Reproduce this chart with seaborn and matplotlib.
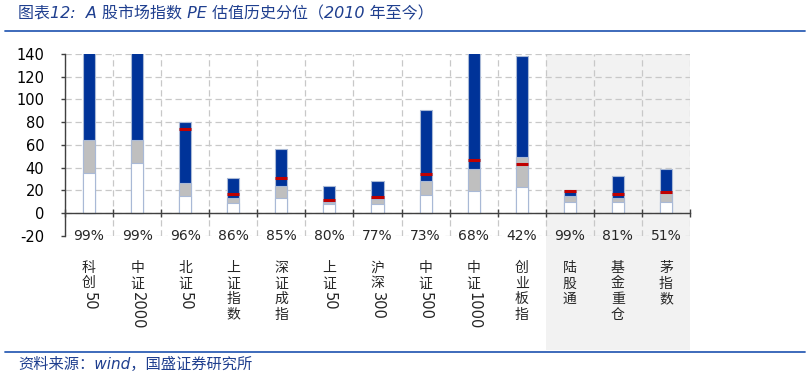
import pandas as pd
import numpy as np
import matplotlib
matplotlib.use('Agg')
import matplotlib.pyplot as plt
import matplotlib.transforms as mtransforms
from matplotlib.patches import Rectangle
from matplotlib.lines import Line2D
import seaborn as sns

sns.set_theme(style="white")
plt.rcParams['font.family'] = ['DejaVu Sans', 'Noto Sans CJK SC']
plt.rcParams['axes.unicode_minus'] = False

# data
cats = ['科创50', '中证2000', '北证50', '上证指数', '深证成指', '上证50', '沪深300',
        '中证500', '中证1000', '创业板指', '陆股通', '基金重仓', '茅指数']
low = [35, 44, 15, 9, 13, 7.5, 8, 15.5, 19, 22.5, 9.5, 9.5, 10]
mid = [64, 64, 26, 13, 24, 9.5, 12, 28, 39, 49, 15, 13, 17.5]
high = [150, 150, 80.5, 30.5, 56.5, 23.5, 28, 91, 150, 138, 20, 32.5, 39]
current = [148, 148, 74, 16.5, 31, 11.5, 13.8, 34, 47, 43.5, 19.6, 17, 18.8]
pct = ['99%', '99%', '96%', '86%', '85%', '80%', '77%', '73%', '68%', '42%', '99%', '81%', '51%']
shade_from = 10  # 陆股通 / 基金重仓 / 茅指数 are shaded

df = pd.DataFrame({'name': cats, 'low': low, 'mid': mid, 'high': high, 'current': current})

blue = '#003399'
grey = '#bfbfbf'
red = '#c00000'
edge = '#a9b9d6'
shade = '#f2f2f2'
navy = '#1f3f8f'

fig = plt.figure(figsize=(8.1, 3.77), dpi=100)
ax = fig.add_axes([65 / 810, 141 / 377, 625 / 810, 182 / 377])

# stacked bars drawn tallest first
sns.barplot(data=df, x='name', y='high', color=blue, width=0.25, saturation=1,
            edgecolor=edge, linewidth=0.8, ax=ax, zorder=3)
sns.barplot(data=df, x='name', y='mid', color=grey, width=0.25, saturation=1,
            edgecolor=edge, linewidth=0.8, ax=ax, zorder=3)
sns.barplot(data=df, x='name', y='low', color='white', width=0.25, saturation=1,
            edgecolor=edge, linewidth=0.8, ax=ax, zorder=3)

xs = np.arange(len(cats))
ax.hlines(df['current'], xs - 0.125, xs + 0.125, color=red, lw=2.2, zorder=4)

ax.set_xlim(-0.5, len(cats) - 0.5)
ax.set_ylim(-20.3, 140)
ax.set_yticks(range(-20, 141, 20))
ax.set_xticks([])
ax.set_xticks(np.arange(-0.5, len(cats), 1), minor=True)
ax.set_xlabel('')
ax.set_ylabel('')

ax.set_axisbelow(True)
ax.grid(axis='y', which='major', color='#c8c8c8', linestyle=(0, (5, 3)), lw=0.9)
ax.grid(axis='x', which='minor', color='#c8c8c8', linestyle=(0, (5, 3)), lw=0.9)

for s in ['top', 'right']:
    ax.spines[s].set_visible(False)
ax.spines['left'].set_color('#404040')
ax.spines['left'].set_linewidth(1)
ax.spines['bottom'].set_position(('data', 0))
ax.spines['bottom'].set_color('#404040')
ax.spines['bottom'].set_linewidth(1)
ax.spines['bottom'].set_zorder(5)
ax.tick_params(axis='y', left=True, length=3, width=1, color='#404040', pad=12,
               labelsize=10.5, labelcolor='black')
ax.tick_params(axis='x', which='minor', bottom=True, direction='inout', length=6,
               width=1, color='#404040')

# shaded band for the last three series, extending down behind labels
trans = mtransforms.blended_transform_factory(ax.transData, ax.transAxes)
band = Rectangle((shade_from - 0.5, -0.626), len(cats) - shade_from, 1.626,
                 transform=trans, facecolor=shade, edgecolor='none',
                 clip_on=False, zorder=0.1)
ax.add_patch(band)

# percentile row
for i, p in enumerate(pct):
    bg = shade if i >= shade_from else 'white'
    ax.text(i, -20, p, ha='center', va='center', fontsize=10, zorder=6,
            bbox=dict(facecolor=bg, edgecolor='none', pad=1.0))

# vertical category labels: CJK upright, digits rotated
ftrans = mtransforms.blended_transform_factory(ax.transData, fig.transFigure)
for i, name in enumerate(cats):
    y = 268
    chars = [c for c in name if not c.isdigit()]
    digits = ''.join(c for c in name if c.isdigit())
    for c in chars:
        ax.text(i, 1 - y / 377, c, transform=ftrans, ha='center', va='center',
                fontsize=10, family=['Noto Sans CJK SC'], clip_on=False)
        y += 15.5
    if digits:
        ax.text(i, 1 - (y - 7) / 377, digits, transform=ftrans, ha='center', va='top',
                rotation=-90, fontsize=10.5, clip_on=False)

# title, rules and source
fig.text(18 / 810, 1 - 14 / 377, '图表12:  A 股市场指数 PE 估值历史分位（2010 年至今）',
         ha='left', va='center', fontsize=11.5, color=navy, style='italic')
fig.add_artist(Line2D([5 / 810, 805 / 810], [1 - 30.5 / 377] * 2, color='#2e5fb5', lw=1.3))
fig.add_artist(Line2D([5 / 810, 805 / 810], [1 - 352 / 377] * 2, color='#2e5fb5', lw=1.3))
fig.text(18 / 810, 1 - 364 / 377, '资料来源：wind，国盛证券研究所',
         ha='left', va='center', fontsize=11, color=navy, style='italic')

plt.savefig('out.png', dpi=100)
plt.close()
